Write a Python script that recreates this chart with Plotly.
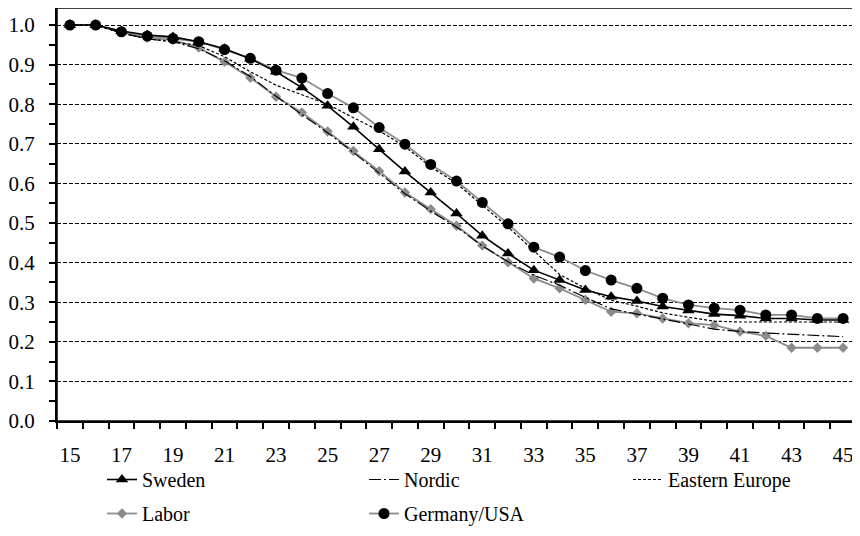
import plotly.graph_objects as go

ages = list(range(15, 46))
sweden = [1.0, 1.0, 0.985, 0.975, 0.970, 0.958, 0.940, 0.915, 0.882, 0.842, 0.796, 0.743, 0.686, 0.630, 0.577, 0.524,
          0.468, 0.423, 0.381, 0.356, 0.331, 0.314, 0.303, 0.289, 0.279, 0.270, 0.266, 0.259, 0.259, 0.255, 0.255]
nordic = [1.0, 1.0, 0.980, 0.965, 0.958, 0.940, 0.910, 0.870, 0.820, 0.775, 0.728, 0.678, 0.627, 0.574, 0.530, 0.490,
          0.442, 0.402, 0.368, 0.343, 0.312, 0.283, 0.270, 0.258, 0.245, 0.232, 0.226, 0.222, 0.219, 0.216, 0.213]
eastern = [1.0, 1.0, 0.980, 0.965, 0.958, 0.948, 0.920, 0.882, 0.848, 0.825, 0.800, 0.766, 0.733, 0.693, 0.642, 0.600,
           0.545, 0.490, 0.430, 0.370, 0.335, 0.305, 0.290, 0.273, 0.262, 0.252, 0.250, 0.250, 0.250, 0.250, 0.250]
labor = [1.0, 1.0, 0.982, 0.968, 0.962, 0.943, 0.907, 0.867, 0.819, 0.779, 0.731, 0.682, 0.631, 0.577, 0.535, 0.493,
         0.443, 0.401, 0.360, 0.335, 0.306, 0.276, 0.272, 0.259, 0.247, 0.242, 0.226, 0.215, 0.185, 0.185, 0.185]
germany = [1.0, 1.0, 0.983, 0.972, 0.966, 0.958, 0.938, 0.916, 0.886, 0.866, 0.827, 0.791, 0.741, 0.699, 0.648, 0.606,
           0.552, 0.498, 0.439, 0.414, 0.380, 0.356, 0.335, 0.310, 0.293, 0.285, 0.280, 0.268, 0.268, 0.259, 0.259]

x_ticks = list(range(15, 46, 2))
y_ticks = [round(i * 0.1, 1) for i in range(11)]

FONT = "Liberation Serif, Times New Roman, serif"
GRAY = "#8c8c8c"
W, H = 852, 528  # page body has an 8px margin; the visible window is 860x536

fig = go.Figure()
fig.add_trace(go.Scatter(x=ages, y=labor, name="Labor", mode="lines+markers",
                         line=dict(color=GRAY, width=1.8),
                         marker=dict(symbol="diamond", size=8, color=GRAY), legend="legend4"))
fig.add_trace(go.Scatter(x=ages, y=germany, name="Germany/USA", mode="lines+markers",
                         line=dict(color=GRAY, width=1.8),
                         marker=dict(symbol="circle", size=11, color="black"), legend="legend5"))
fig.add_trace(go.Scatter(x=ages, y=nordic, name="Nordic", mode="lines",
                         line=dict(color="black", width=1.2, dash="12px,3px,2px,3px"), legend="legend2"))
fig.add_trace(go.Scatter(x=ages, y=eastern, name="Eastern Europe", mode="lines",
                         line=dict(color="black", width=1.2, dash="3px,2px"), legend="legend3"))
fig.add_trace(go.Scatter(x=ages, y=sweden, name="Sweden", mode="lines+markers",
                         line=dict(color="black", width=1.6),
                         marker=dict(symbol="triangle-up", size=11, color="black"), legend="legend"))


def leg(xpx, ypx):
    return dict(orientation="h", xref="container", yref="container",
                x=xpx / W, y=1 - ypx / H, xanchor="left", yanchor="top",
                font=dict(family=FONT, size=20, color="black"), bgcolor="rgba(0,0,0,0)")


row1, row2 = 452, 486
fig.update_layout(
    template="none",
    width=W, height=H,
    margin=dict(l=49, r=4, t=0, b=115),
    plot_bgcolor="white", paper_bgcolor="white",
    font=dict(family=FONT, size=21, color="black"),
    xaxis=dict(range=[14.5, 45.5], tickvals=x_ticks, ticktext=[str(v) for v in x_ticks],
               showgrid=False, zeroline=False, showline=True, linecolor="black", linewidth=2,
               ticks="", ticklabelstandoff=14, automargin=False,
               minor=dict(tick0=14.5, dtick=1, ticks="outside", ticklen=6, tickcolor="black",
                          tickwidth=1.5, showgrid=False)),
    yaxis=dict(range=[0, 1.043], tickvals=y_ticks, tickformat=".1f",
               showgrid=True, gridcolor="black", gridwidth=1, griddash="4px,2px",
               zeroline=False, showline=True, linecolor="black", linewidth=2,
               ticks="outside", ticklen=6, tickcolor="black", tickwidth=1.5,
               ticklabelstandoff=10, automargin=False,
               minor=dict(tick0=0.05, dtick=0.1, ticks="outside", ticklen=6, tickcolor="black",
                          tickwidth=1.5, showgrid=False)),
    legend=leg(94, row1),
    legend2=leg(356, row1),
    legend3=leg(620, row1),
    legend4=leg(94, row2),
    legend5=leg(356, row2),
    showlegend=True,
    shapes=[dict(type="rect", xref="paper", yref="paper", x0=0, x1=1, y0=0, y1=1,
                 line=dict(color="black", width=1.5), layer="above")],
)

fig.write_html("out.html")
